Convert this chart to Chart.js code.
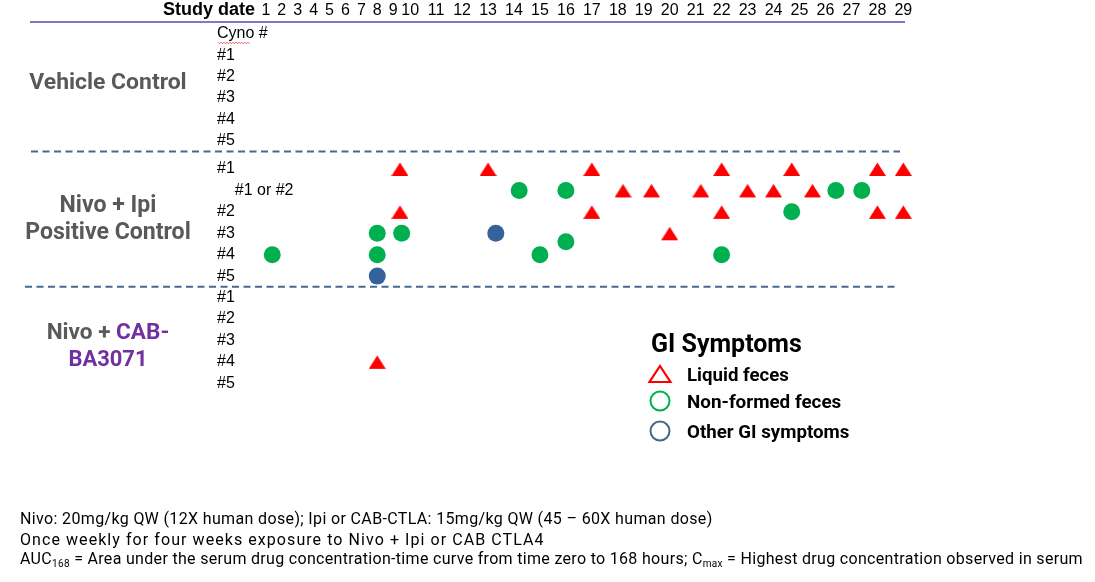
<!DOCTYPE html>
<html>
<head>
<meta charset="utf-8">
<script src="https://cdn.jsdelivr.net/npm/chart.js@4.4.1/dist/chart.umd.min.js"></script>
<style>
  html, body { margin: 0; padding: 0; background: #fff; }
  #wrap { position: relative; width: 1095px; height: 582px; overflow: hidden; }
  #wrap canvas { position: absolute; left: 0; top: 0; }
  .t { position: absolute; white-space: nowrap; line-height: 1; }
  .grp { font-family: Roboto, "Noto Sans", sans-serif; font-weight: bold; color: #595959; font-size: 20px; transform: translate(-50%, -50%); }
  .cab { color: #7030A0; }
  .leg { font-family: Roboto, "Noto Sans", sans-serif; font-weight: bold; color: #000; font-size: 17px; transform: translateY(-50%); }
  .note { font-family: Roboto, "Noto Sans", sans-serif; font-size: 16px; color: #000; transform: translateY(-50%); }
  .note sub { font-size: 10px; vertical-align: -3px; }
</style>
</head>
<body>
<div id="wrap">
  <canvas id="giChart" width="1095" height="582"></canvas>

  <div class="t grp" style="left:108px; top:82px" data-w="157">Vehicle Control</div>
  <div class="t grp" style="left:108px; top:205px" data-w="97">Nivo + Ipi</div>
  <div class="t grp" style="left:108px; top:232px" data-w="165">Positive Control</div>
  <div class="t grp" style="left:108px; top:332px" data-w="123">Nivo + <span class="cab">CAB-</span></div>
  <div class="t grp cab" style="left:108px; top:359px" data-w="79">BA3071</div>

  <div class="t leg" style="left:651px; top:343px; font-size:22px" data-w="151">GI Symptoms</div>
  <svg class="t" style="left:646px; top:362px" width="28" height="24">
    <polygon points="14,4 24.5,20 3.5,20" fill="none" stroke="#FF0000" stroke-width="2.2"/>
  </svg>
  <div class="t leg" style="left:687px; top:375px" data-w="102">Liquid feces</div>
  <svg class="t" style="left:647px; top:388px" width="26" height="26">
    <circle cx="13" cy="13" r="9.5" fill="none" stroke="#00B050" stroke-width="2"/>
  </svg>
  <div class="t leg" style="left:687px; top:402px" data-w="154">Non-formed feces</div>
  <svg class="t" style="left:647px; top:418px" width="26" height="26">
    <circle cx="13" cy="13" r="9.5" fill="none" stroke="#44678F" stroke-width="2"/>
  </svg>
  <div class="t leg" style="left:687px; top:432px" data-w="163">Other GI symptoms</div>

  <div class="t note" style="left:20px; top:519px" data-ls="693">Nivo: 20mg/kg QW (12X human dose); Ipi or CAB-CTLA: 15mg/kg QW (45 – 60X human dose)</div>
  <div class="t note" style="left:20px; top:540px" data-ls="525">Once weekly for four weeks exposure to Nivo + Ipi or CAB CTLA4</div>
  <div class="t note" style="left:20px; top:560px" data-ls="1063">AUC<sub>168</sub> = Area under the serum drug concentration-time curve from time zero to 168 hours; C<sub>max</sub> = Highest drug concentration observed in serum</div>
</div>

<script>
// study days along the top
const studyDays = [1, 2, 3, 4, 5, 6, 7, 8, 9, 10, 11, 12, 13, 14, 15, 16, 17, 18, 19, 20,
  21, 22, 23, 24, 25, 26, 27, 28, 29];

// animal rows: vehicle (1-5), nivo + ipi (6-11), nivo + CAB-BA3071 (12-16)
const cynoRows = ['Cyno #', '#1', '#2', '#3', '#4', '#5',
  '#1', '    #1 or #2', '#2', '#3', '#4', '#5',
  '#1', '#2', '#3', '#4', '#5'];

// liquid feces (red triangles): study day + row
const liquidDays = [9.4, 13, 17, 22, 24.7, 28, 29,
  18.2, 19.3, 21.2, 23, 24, 25.5,
  9.4, 17, 22, 28, 29,
  20, 8];
const liquidRows = [6, 6, 6, 6, 6, 6, 6,
  7, 7, 7, 7, 7, 7,
  8, 8, 8, 8, 8,
  9, 15];

// non-formed feces (green circles)
const nonFormedDays = [14.2, 16, 26.4, 27.4, 24.7, 8, 9.5, 16, 1.4, 8, 15, 22];
const nonFormedRows = [7, 7, 7, 7, 8, 9, 9, 9.4, 10, 10, 10, 10];

// other GI symptoms (blue circles)
const otherDays = [13.3, 8];
const otherRows = [9, 11];

// the day header is typed text: single digits sit closer than double digits,
// and there is a gap between the groups of cynos
const warps = {
  x: d => d <= 9 ? d : (d <= 10 ? 9 + (d - 9) * 1.07 : 10.07 + (d - 10) * 1.632),
  y: r => r <= 5.5 ? r : r + 0.31
};

class WarpedScale extends Chart.LinearScale {
  static id = 'warped';
  static defaults = Chart.LinearScale.defaults;
  getPixelForValue(v) {
    return v == null ? NaN : super.getPixelForValue(warps[this.axis](v));
  }
}
Chart.register(WarpedScale);

function triangleImage(color) {
  const c = document.createElement('canvas');
  c.width = 17; c.height = 16;
  const g = c.getContext('2d');
  g.fillStyle = color;
  g.beginPath();
  g.moveTo(8.5, 1.5);
  g.lineTo(17, 15);
  g.lineTo(0, 15);
  g.closePath();
  g.fill();
  return c;
}

function pts(days, rows) {
  return days.map((d, i) => ({ x: d, y: rows[i] }));
}

const slideLines = {
  id: 'slideLines',
  afterDraw(chart) {
    const ctx = chart.ctx;
    const ys = chart.scales.y;
    ctx.save();
    // header rule
    ctx.strokeStyle = '#7C7BC6';
    ctx.lineWidth = 2;
    ctx.beginPath();
    ctx.moveTo(30, chart.chartArea.top - 1);
    ctx.lineTo(905, chart.chartArea.top - 1);
    ctx.stroke();
    // group separators
    ctx.strokeStyle = '#46698F';
    ctx.setLineDash([7, 4.5]);
    let y1 = ys.getPixelForValue(5.5);
    ctx.beginPath(); ctx.moveTo(31, y1); ctx.lineTo(900, y1); ctx.stroke();
    let y2 = ys.getPixelForValue(11.5);
    ctx.beginPath(); ctx.moveTo(25, y2); ctx.lineTo(895, y2); ctx.stroke();
    ctx.setLineDash([]);
    // "Study date" title left of the day header
    ctx.fillStyle = '#000';
    ctx.font = 'bold 18px Arial, "Liberation Sans", sans-serif';
    ctx.textAlign = 'right';
    ctx.textBaseline = 'middle';
    ctx.fillText('Study date', 255, 10);
    // spell-check squiggle under "Cyno"
    const yc = ys.getPixelForValue(0) + 9;
    ctx.strokeStyle = '#E03030';
    ctx.lineWidth = 0.8;
    ctx.beginPath();
    for (let x = 218, k = 0; x <= 250; x += 1.5, k++) {
      const yy = yc + (k % 2 ? 1 : -0.5);
      if (k === 0) ctx.moveTo(x, yy); else ctx.lineTo(x, yy);
    }
    ctx.stroke();
    ctx.restore();
  }
};

new Chart(document.getElementById('giChart'), {
  type: 'scatter',
  data: {
    datasets: [
      {
        label: 'Liquid feces',
        data: pts(liquidDays, liquidRows),
        pointStyle: triangleImage('#FF0000'),
        pointRadius: 9
      },
      {
        label: 'Non-formed feces',
        data: pts(nonFormedDays, nonFormedRows),
        pointStyle: 'circle',
        pointRadius: 8.5,
        backgroundColor: '#00B050',
        borderWidth: 0
      },
      {
        label: 'Other GI symptoms',
        data: pts(otherDays, otherRows),
        pointStyle: 'circle',
        pointRadius: 8.5,
        backgroundColor: '#35629A',
        borderWidth: 0
      }
    ]
  },
  options: {
    responsive: false,
    animation: false,
    events: [],
    layout: { padding: { left: 250, right: 177, top: 0, bottom: 188 } },
    plugins: {
      legend: { display: false },
      tooltip: { enabled: false }
    },
    scales: {
      x: {
        type: 'warped',
        position: 'top',
        min: 0,
        max: 42,
        bounds: 'data',
        grid: { display: false, drawTicks: false },
        border: { display: false },
        afterFit: s => { s.height = 23; },
        afterBuildTicks: s => { s.ticks = studyDays.map(v => ({ value: v })); },
        ticks: {
          autoSkip: false,
          maxRotation: 0,
          padding: 3,
          color: '#000',
          font: { family: 'Arial, "Liberation Sans", sans-serif', size: 16 },
          callback: v => String(v)
        }
      },
      y: {
        type: 'warped',
        reverse: true,
        min: -0.5,
        max: 16.81,
        bounds: 'data',
        grid: { display: false, drawTicks: false },
        border: { display: false },
        afterFit: s => { s.width = 0; },
        afterBuildTicks: s => { s.ticks = cynoRows.map((_, i) => ({ value: i })); },
        ticks: {
          autoSkip: false,
          mirror: true,
          crossAlign: 'near',
          padding: -33,
          color: '#000',
          font: { family: 'Arial, "Liberation Sans", sans-serif', size: 16 },
          callback: v => cynoRows[v]
        }
      }
    }
  },
  plugins: [slideLines]
});

// size the slide text to the widths in the picture
document.querySelectorAll('[data-w]').forEach(el => {
  const base = parseFloat(getComputedStyle(el).fontSize);
  el.style.fontSize = (base * el.dataset.w / el.offsetWidth).toFixed(2) + 'px';
});
document.querySelectorAll('[data-ls]').forEach(el => {
  const n = el.textContent.length;
  el.style.letterSpacing = ((el.dataset.ls - el.offsetWidth) / n).toFixed(3) + 'px';
});
</script>
</body>
</html>
